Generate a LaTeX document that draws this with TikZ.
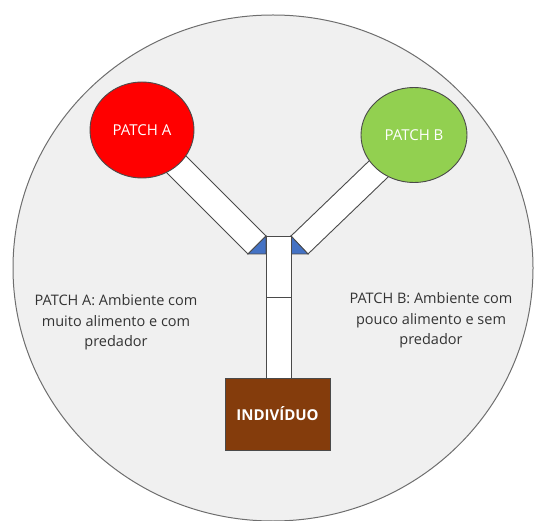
\documentclass[tikz,border=0pt]{standalone}
\usepackage{fontspec}
\setmainfont{Open Sans}
\usetikzlibrary{shapes.geometric}
\definecolor{bgc}{HTML}{F0F0F0}
\definecolor{edgec}{HTML}{6E6E6E}
\definecolor{linec}{HTML}{4A4A4A}
\definecolor{redc}{HTML}{FF0000}
\definecolor{greenc}{HTML}{92D050}
\definecolor{bluec}{HTML}{4472C4}
\definecolor{brownc}{HTML}{843C0C}
\definecolor{textc}{HTML}{333333}
\tikzset{
  armbox/.style={fill=white, draw=linec, line width=0.9pt, line join=miter},
  tri/.style={fill=bluec, draw=linec, line width=0.8pt},
  patch/.style={ellipse, draw=linec, line width=0.9pt, text=white, inner sep=0pt,
    font=\fontsize{15}{17}\selectfont},
  desc/.style={align=center, text=textc, font=\fontsize{14.5}{20.5}\selectfont},
}
\begin{document}
\begin{tikzpicture}[x=1pt,y=-1pt]
\useasboundingbox (0,0) rectangle (538,521);
% big circle
\fill[bgc] (273,268) ellipse [x radius=260pt, y radius=253pt];
\draw[edgec, line width=1pt] (273,268) ellipse [x radius=260pt, y radius=253pt];
% arms
\coordinate (a1) at (266,236); \coordinate (a2) at (248,254);
\coordinate (b1) at (291,236); \coordinate (b2) at (308,254);
\draw[armbox] (a1) -- (160,130) -- (142,148) -- (a2) -- cycle;
\draw[armbox] (b1) -- (395.5,135.5) -- (412.5,153.5) -- (b2) -- cycle;
% blue triangles
\draw[tri] (a1) -- (a2) -- (266,254) -- cycle;
\draw[tri] (b1) -- (291,254) -- (b2) -- cycle;
% stem
\draw[armbox] (266,236) rectangle (291,297);
\draw[armbox] (266,297) rectangle (291,378);
% patches
\node[patch, fill=redc, minimum width=104pt, minimum height=96pt] (pa) at (142,130) {PATCH A};
\node[patch, fill=greenc, minimum width=106pt, minimum height=95pt] (pb) at (414,135) {PATCH B};
% individual
\node[draw=linec, line width=0.8pt, fill=brownc, minimum width=105pt, minimum height=72pt,
  text=white, font=\bfseries\fontsize{15}{17}\selectfont, inner sep=0pt] (ind) at (277.5,414) {INDIVÍDUO};
% descriptions
\node[desc] (da) at (116,322.5) {PATCH A: Ambiente com\\muito alimento e com\\predador};
\node[desc] (db) at (431,320.5) {PATCH B: Ambiente com\\pouco alimento e sem\\predador};
\end{tikzpicture}
\end{document}
